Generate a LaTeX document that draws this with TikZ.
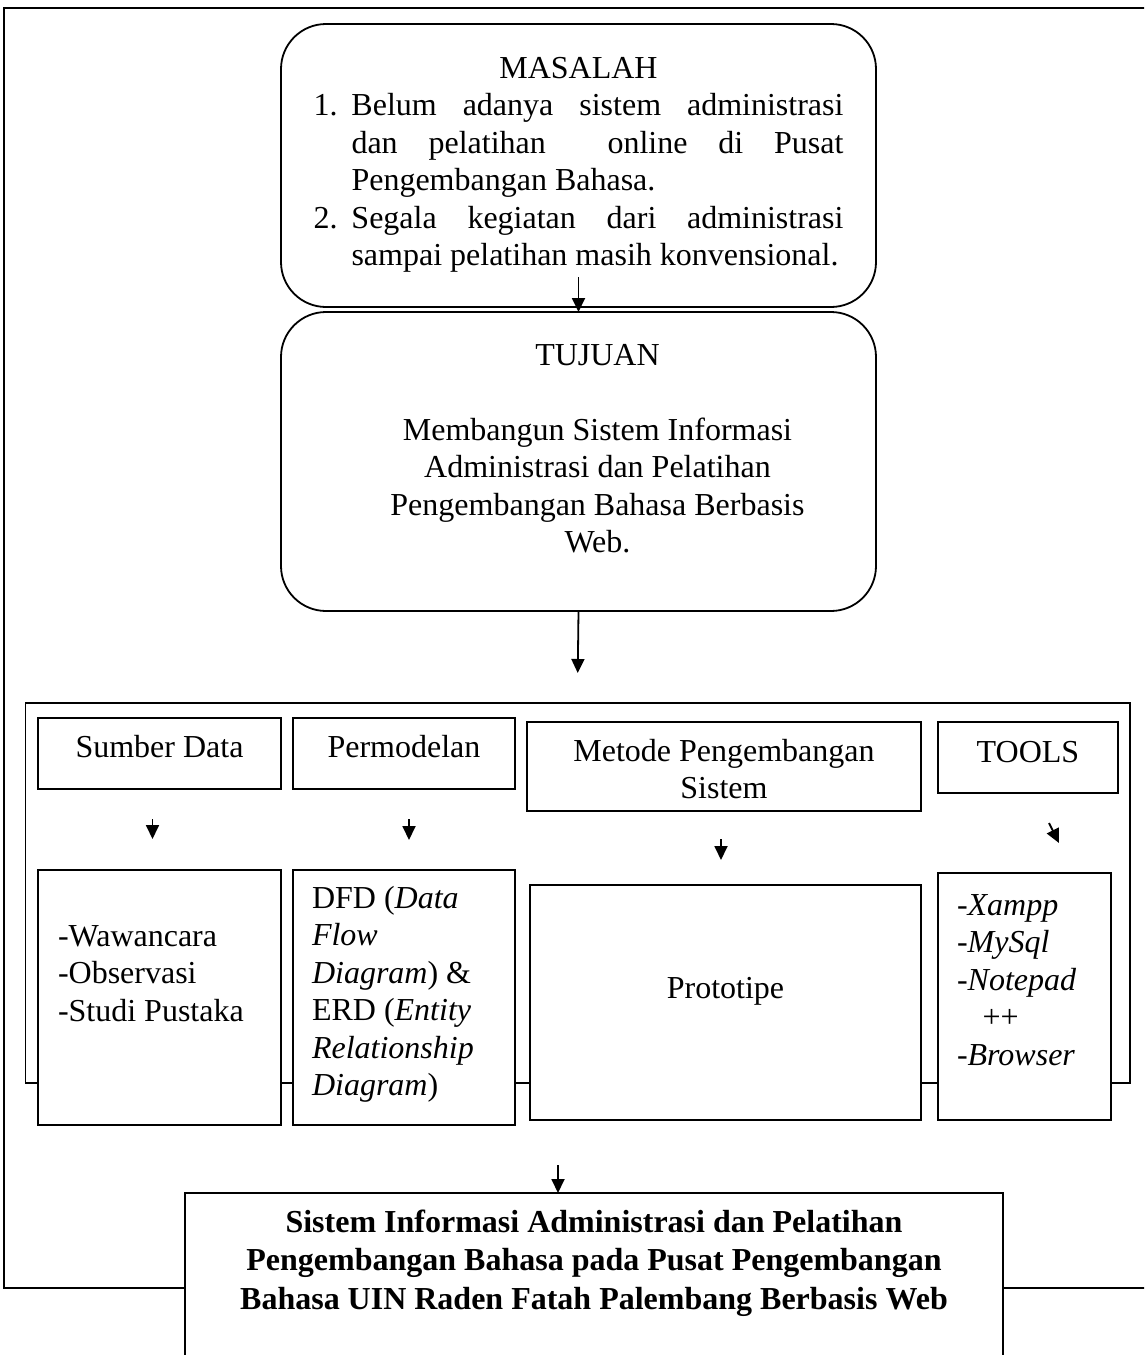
\documentclass[tikz,border=0pt]{standalone}
\usepackage{fontspec}
\setmainfont{Liberation Serif}
\usetikzlibrary{arrows.meta,positioning}

\begin{document}
\begin{tikzpicture}[
  x=1pt, y=-1pt,
  font=\fontsize{32}{37.5}\selectfont,
  line width=1.8pt,
  box/.style={draw, fill=white, inner sep=0pt, outer sep=0pt, anchor=north west, text height=21pt},
  roundbox/.style={draw, fill=white, rounded corners=45pt, inner sep=0pt, outer sep=0pt, text height=21pt},
  panel/.style={draw, inner sep=0pt, outer sep=0pt},
  arrow/.style={-{Triangle[length=14pt, width=13pt]}, line width=1.8pt}
]
  \useasboundingbox (0,0) rectangle (1144,1355);
  \clip (0,0) rectangle (1144,1355);

  % Outer frame
  \draw (4,8) rectangle (1180,1288);

  % Problem and goal
  \node[roundbox, minimum width=595pt, minimum height=283pt, text width=530pt,
    align=justify, text depth=196pt] (masalah) at (578.5,165.5) {%
    {\centering MASALAH\par}
    \hangindent=38pt\hangafter=1\noindent\makebox[38pt][l]{1.}Belum adanya sistem administrasi\linebreak
    dan pelatihan\ \ online di Pusat\linebreak Pengembangan Bahasa.\par
    \hangindent=38pt\hangafter=1\noindent\makebox[38pt][l]{2.}Segala kegiatan dari administrasi\linebreak
    sampai pelatihan masih konvensional.\par};
  \node[roundbox, minimum width=595pt, minimum height=299pt, text width=500pt,
    align=flush center, text depth=214pt, below=5pt of masalah] (tujuan) {%
    \hspace*{38pt}TUJUAN\\[37.5pt]
    \hspace*{38pt}Membangun Sistem Informasi\\
    \hspace*{38pt}Administrasi dan Pelatihan\\
    \hspace*{38pt}Pengembangan Bahasa Berbasis\\
    \hspace*{38pt}Web.};

  % Method panel
  \node[panel, minimum width=1104.5pt, minimum height=380pt] (panel) at (577.75,893) {};

  % Top row
  \node[box, minimum width=243pt, minimum height=71pt, text depth=14pt] (sumber) at (38,718) {Sumber Data};
  \node[box, minimum width=222pt, minimum height=71pt, text depth=14pt, right=12pt of sumber] (permodel) {Permodelan};
  \node[box, minimum width=394pt, minimum height=89pt, text width=394pt, align=flush center,
    text depth=32pt] (metode) at (527,722) {Metode Pengembangan\\Sistem};
  \node[box, minimum width=180pt, minimum height=71pt, text depth=12pt,
    right=17pt of metode.north east, anchor=north west] (tools) {TOOLS};

  % Bottom row
  \node[box, minimum width=243pt, minimum height=255pt, text width=203pt, align=flush left,
    text depth=124pt] (wawan) at (38,870) {-Wawancara\\-Observasi\\-Studi Pustaka};
  \node[box, minimum width=222pt, minimum height=255pt, text width=184pt, align=flush left,
    text depth=200pt, right=12pt of wawan] (dfd) {%
    DFD (\textit{Data}\\\textit{Flow}\\\textit{Diagram}) \&\\ERD (\textit{Entity}\\
    \textit{Relationship}\\\textit{Diagram})};
  \node[box, minimum width=391pt, minimum height=235pt, text depth=30pt] (proto) at (530,885) {Prototipe};
  \node[box, minimum width=173pt, minimum height=247pt, text width=135pt, align=flush left,
    text depth=184pt] (toollist) at (938,873) {%
    -\textit{Xampp}\\-\textit{MySql}\\-\textit{Notepad}\\\hspace*{0.8em}++\\-\textit{Browser}};

  % Result
  \node[box, minimum width=818pt, text width=818pt, align=flush center, inner ysep=18pt,
    text depth=260pt, font=\fontsize{32}{38.5}\selectfont\bfseries] (hasil) at (185,1193) {%
    Sistem Informasi Administrasi dan Pelatihan\\
    Pengembangan Bahasa pada Pusat Pengembangan\\
    Bahasa UIN Raden Fatah Palembang Berbasis Web};

  % Arrows
  \draw[arrow] ([yshift=30pt]masalah.south) -- (tujuan.north);
  \draw[arrow] (tujuan.south) -- ([yshift=30pt]panel.north);

  \draw[arrow] ([xshift=-7pt,yshift=-30pt]sumber.south) -- ([xshift=-7pt,yshift=31pt]wawan.north);
  \draw[arrow] ([xshift=5pt,yshift=-30pt]permodel.south) -- ([xshift=5pt,yshift=30pt]dfd.north);
  \draw[arrow] ([xshift=-3pt,yshift=-28pt]metode.south) -- ([xshift=-4.5pt,yshift=25pt]proto.north);
  \draw[arrow] ([xshift=21pt,yshift=-30pt]tools.south) -- ([xshift=34.5pt,yshift=30pt]toollist.north);

  \draw[arrow] ([xshift=-36pt,yshift=28pt]hasil.north) -- ([xshift=-36pt]hasil.north);
\end{tikzpicture}
\end{document}
